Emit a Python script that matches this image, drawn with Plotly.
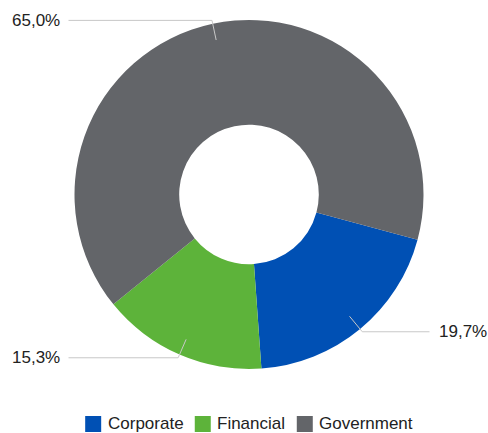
import math
import plotly.graph_objects as go

categories = ["Corporate", "Financial", "Government"]
values = [19.7, 15.3, 65.0]
colors = ["#0050B4", "#5DB33A", "#636569"]
label_texts = [f"{v:.1f}".replace(".", ",") + "%" for v in values]

W, H = 488, 433
ML, MR, MT, MB = 10, 0, 20, 64
PW, PH = W - ML - MR, H - MT - MB
ROT = 105  # start angle, degrees clockwise from 12 o'clock
FONT = "Liberation Sans, Arial"
FS = 17

cx = ML + PW / 2
cy = MT + PH / 2
R = min(PW, PH) / 2

# Arial advance widths (per 1000 em) for the legend text
ARIAL = {"C": 722, "o": 556, "r": 333, "p": 556, "a": 556, "t": 278, "e": 556,
         "F": 611, "i": 222, "n": 556, "c": 500, "l": 222, "G": 778, "v": 500,
         "m": 833}


def text_w(s, size):
    return sum(ARIAL.get(ch, 556) for ch in s) * size / 1000


def to_paper(px, py):
    return (px - ML) / PW, (MT + PH - py) / PH


fig = go.Figure(
    go.Pie(
        labels=categories,
        values=values,
        hole=0.4,
        sort=False,
        direction="clockwise",
        rotation=ROT,
        marker=dict(colors=colors, line=dict(width=0)),
        textinfo="none",
        hoverinfo="label+percent",
        showlegend=False,
    )
)

shapes = []
annotations = []

# leader lines and outside labels
total = sum(values)
start = ROT
for v, txt in zip(values, label_texts):
    span = 360 * v / total
    mid = math.radians(start + span / 2)
    start += span
    sx, sy = math.sin(mid), -math.cos(mid)
    p0 = (cx + 0.905 * R * sx, cy + 0.905 * R * sy)
    p1 = (cx + 1.02 * R * sx, cy + 1.02 * R * sy)
    side = 1 if sx > 0 else -1
    p2 = (cx + side * (R + 6), p1[1])
    a, b, c = to_paper(*p0), to_paper(*p1), to_paper(*p2)
    shapes.append(dict(
        type="path", xref="paper", yref="paper",
        path=f"M {a[0]},{a[1]} L {b[0]},{b[1]} L {c[0]},{c[1]}",
        line=dict(color="#C8C8C8", width=1),
    ))
    annotations.append(dict(
        x=c[0], y=c[1], xref="paper", yref="paper", text=txt,
        showarrow=False, xanchor="left" if side > 0 else "right",
        yanchor="middle", xshift=7 * side,
        font=dict(family=FONT, size=FS, color="#222222"),
    ))

# legend row: square, gap, text, gap
SQ, GAP_IN, GAP_OUT = 16, 6.5, 11.5
LEG_Y = 424
widths = [SQ + GAP_IN + text_w(cat, FS) for cat in categories]
total_w = sum(widths) + GAP_OUT * (len(categories) - 1)
x = cx - total_w / 2
for cat, col, w in zip(categories, colors, widths):
    s0 = to_paper(x, LEG_Y - SQ / 2)
    s1 = to_paper(x + SQ, LEG_Y + SQ / 2)
    shapes.append(dict(
        type="rect", xref="paper", yref="paper",
        x0=s0[0], x1=s1[0], y0=s1[1], y1=s0[1],
        fillcolor=col, line=dict(width=0),
    ))
    t = to_paper(x + SQ + GAP_IN, LEG_Y)
    annotations.append(dict(
        x=t[0], y=t[1], xref="paper", yref="paper", text=cat,
        showarrow=False, xanchor="left", yanchor="middle",
        xshift=-1, borderpad=0,
        font=dict(family=FONT, size=FS, color="#222222"),
    ))
    x += w + GAP_OUT

fig.update_layout(
    width=W,
    height=H,
    margin=dict(l=ML, r=MR, t=MT, b=MB, autoexpand=False),
    paper_bgcolor="white",
    plot_bgcolor="white",
    shapes=shapes,
    annotations=annotations,
    showlegend=False,
    font=dict(family=FONT),
)

fig.write_html(
    "out.html",
    config={"displayModeBar": False},
    post_script="document.body.style.margin='0';document.body.style.overflow='hidden';",
)
